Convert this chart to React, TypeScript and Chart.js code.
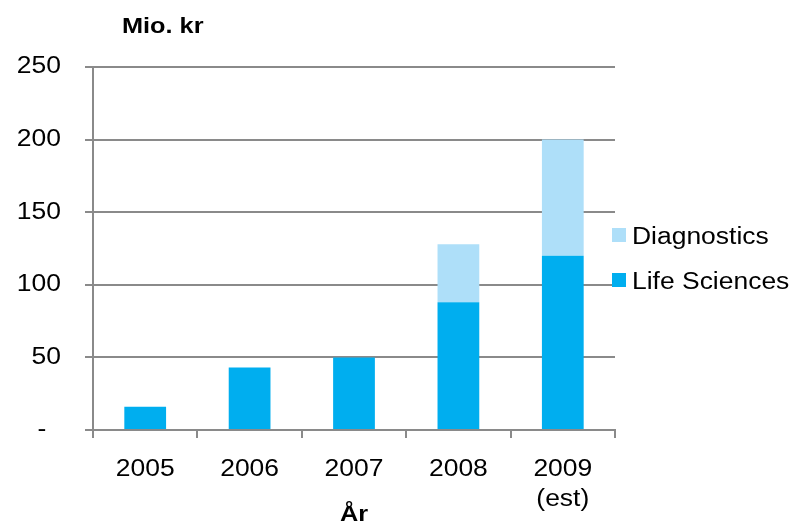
import React, { useEffect, useRef } from "react";
import { Chart, registerables } from "chart.js";

Chart.register(...registerables);

const categories: (string | string[])[] = ["2005", "2006", "2007", "2008", ["2009", "(est)"]];
const lifeSciences: number[] = [16, 43, 50, 88, 120];
const diagnostics: (number | null)[] = [null, null, null, 40, 80];
const yTicks: number[] = [0, 50, 100, 150, 200, 250];
const yTitle = "Mio. kr";
const xTitle = "År";

const FONT = "'Liberation Sans', Arial, sans-serif";
const GRID = "#8a8a8a";
const SX = 1.15; // horizontal stretch of text seen in the reference

const yLabel = (v: number) => (v === 0 ? "-  " : String(v));

function drawText(ctx: any, text: string, x: number, y: number, align: string, baseline: string, font: string) {
  ctx.save();
  ctx.font = font;
  ctx.textAlign = align;
  ctx.textBaseline = baseline;
  ctx.fillStyle = "#000";
  ctx.translate(x, y);
  ctx.scale(SX, 1);
  ctx.fillText(text, 0, 0);
  ctx.restore();
}

const textPlugin = {
  id: "texts",
  afterDraw(chart: any) {
    const ctx = chart.ctx;
    const area = chart.chartArea;
    const xs = chart.scales.x;
    const ys = chart.scales.y;
    const tickFont = `23px ${FONT}`;
    const boldFont = `bold 22px ${FONT}`;
    // y tick labels
    ys.ticks.forEach((t: any, i: number) => {
      drawText(ctx, yLabel(t.value), area.left - 32, ys.getPixelForTick(i), "right", "middle", tickFont);
    });
    // x tick labels
    (chart.data.labels as any[]).forEach((lab: any, i: number) => {
      const lines = Array.isArray(lab) ? lab : [lab];
      const px = xs.getPixelForTick(i);
      lines.forEach((ln: string, j: number) => {
        drawText(ctx, ln, px, area.bottom + 40 + j * 30, "center", "middle", tickFont);
      });
    });
    // titles
    drawText(ctx, xTitle, (area.left + area.right) / 2, chart.height - 1, "center", "alphabetic", boldFont);
    drawText(ctx, yTitle, area.left + 29, 33, "left", "alphabetic", boldFont);
    // legend (reverse order)
    const ds = chart.data.datasets.slice().reverse();
    ds.forEach((d: any, i: number) => {
      const top = area.top + 161 + i * 45;
      ctx.save();
      ctx.fillStyle = d.backgroundColor;
      ctx.fillRect(area.right - 3, top, 14, 14);
      ctx.restore();
      drawText(ctx, d.label, area.right + 17, top + 16, "left", "alphabetic", tickFont);
    });
  },
};

export default function App() {
  const ref = useRef<HTMLCanvasElement>(null);
  useEffect(() => {
    const chart = new Chart(ref.current!, {
      type: "bar",
      data: {
        labels: categories,
        datasets: [
          {
            label: "Life Sciences",
            data: lifeSciences,
            backgroundColor: "#00AEEF",
            barPercentage: 0.4,
            categoryPercentage: 1,
          },
          {
            label: "Diagnostics",
            data: diagnostics,
            backgroundColor: "#AEDFF9",
            barPercentage: 0.4,
            categoryPercentage: 1,
          },
        ],
      },
      options: {
        responsive: false,
        animation: false,
        devicePixelRatio: 1,
        layout: { padding: { left: 0, right: 175, top: 67, bottom: 0 } },
        plugins: { legend: { display: false }, tooltip: { enabled: false }, title: { display: false } },
        scales: {
          x: {
            stacked: true,
            grid: { display: true, drawOnChartArea: false, color: GRID, lineWidth: 2, tickLength: 8, offset: true },
            border: { display: true, color: GRID, width: 2 },
            ticks: { display: false, autoSkip: false },
            afterFit(scale: any) { scale.height = 92; },
          },
          y: {
            stacked: true,
            min: 0,
            max: 250,
            afterBuildTicks(scale: any) { scale.ticks = yTicks.map((v) => ({ value: v })); },
            grid: { color: GRID, lineWidth: 2, tickLength: 8 },
            border: { display: true, color: GRID, width: 2 },
            ticks: { display: false },
            afterFit(scale: any) { scale.width = 93; },
          },
        },
      },
      plugins: [textPlugin],
    });
    return () => chart.destroy();
  }, []);
  return (
    <div style={{ position: "absolute", left: 0, top: 0, width: 790, height: 522 }}>
      <canvas ref={ref} width={790} height={522} />
    </div>
  );
}
